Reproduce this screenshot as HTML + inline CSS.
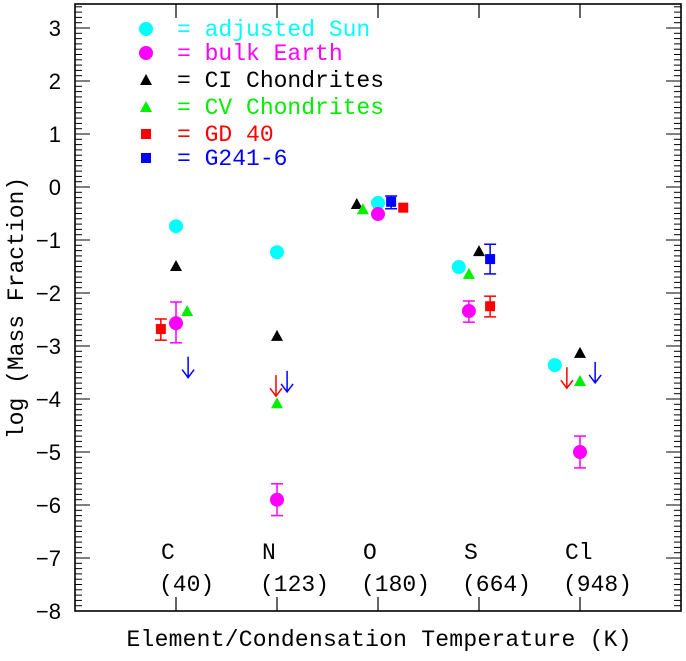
<!DOCTYPE html>
<html><head><meta charset="utf-8"><style>body{margin:0;background:#fff}svg text{font-family:"Liberation Mono",monospace}</style></head>
<body>
<svg id="c" width="686" height="656" xmlns="http://www.w3.org/2000/svg"></svg>
<script>
const categories=["C","N","O","S","Cl"];
const temps=["(40)","(123)","(180)","(664)","(948)"];
const yTicks=[3,2,1,0,-1,-2,-3,-4,-5,-6,-7,-8];
const sunX=[1,2,3,3.8,4.75], sunY=[-0.74,-1.23,-0.30,-1.51,-3.36];
const earthX=[1,2,3,3.9,5], earthY=[-2.57,-5.9,-0.51,-2.34,-5.0], earthLo=[-2.94,-6.2,-0.51,-2.55,-5.3], earthHi=[-2.17,-5.6,-0.51,-2.15,-4.7];
const ciX=[1,2,2.79,4,5], ciY=[-1.49,-2.81,-0.32,-1.21,-3.13];
const cvX=[1.11,2,2.85,3.9,5], cvY=[-2.34,-4.08,-0.42,-1.64,-3.66];
const gdX=[0.85,3.25,4.11], gdY=[-2.68,-0.39,-2.25], gdLo=[-2.89,-0.39,-2.45], gdHi=[-2.49,-0.39,-2.06];
const gdLimX=[1.99,4.87], gdLimY=[-3.55,-3.40];
const gX=[3.13,4.11], gY=[-0.28,-1.36], gLo=[-0.41,-1.64], gHi=[-0.17,-1.08];
const gLimX=[1.12,2.1,5.15], gLimY=[-3.2,-3.47,-3.30];
const L=75,R=681,T=4,B=611;
const xs=v=>L+v*(R-L)/6, ys=v=>187-v*53;
const svg=document.getElementById('c');
function el(t,a,p){const e=document.createElementNS('http://www.w3.org/2000/svg',t);for(const k in a)e.setAttribute(k,a[k]);(p||svg).appendChild(e);return e;}
const frame=el('rect',{x:L,y:T,width:R-L,height:B-T,fill:'none',stroke:'#000','stroke-width':1.6});


for(let i=-80;i<=34;i++){const v=i/10,y=ys(v),maj=i%10===0,len=maj?15:7;
 el('line',{x1:L,x2:L+len,y1:y,y2:y,stroke:'#000','stroke-width':1});
 el('line',{x1:R,x2:R-len,y1:y,y2:y,stroke:'#000','stroke-width':1});}
yTicks.forEach(v=>{const t=el('text',{x:61,y:ys(v)+8,'text-anchor':'end','font-size':22,style:'font-family:"Liberation Sans",sans-serif'});t.textContent=(v<0?'\u2212':'')+Math.abs(v);
 
 });
categories.forEach((c,i)=>{const x=xs(i+1);
 el('line',{x1:x,x2:x,y1:B,y2:B-14,stroke:'#000','stroke-width':1.2});
 el('line',{x1:x,x2:x,y1:T,y2:T+14,stroke:'#000','stroke-width':1.2});
 const a=el('text',{x:x-15,y:559,'font-size':23});a.textContent=c;
 
 
 const b=el('text',{x:x-17,y:591,'font-size':23});b.textContent=temps[i];
 
 });
const xt=el('text',{x:379,y:646,'text-anchor':'middle','font-size':23,textLength:505});xt.textContent='Element/Condensation Temperature (K)';


const yt=el('text',{x:0,y:0,'text-anchor':'middle','font-size':23,transform:'translate(23,308) rotate(-90)'});yt.textContent='log (Mass Fraction)';


function err(x,lo,hi,col){const X=xs(x);el('line',{x1:X,x2:X,y1:ys(lo),y2:ys(hi),stroke:col,'stroke-width':1.5});
 [lo,hi].forEach(v=>el('line',{x1:X-6,x2:X+6,y1:ys(v),y2:ys(v),stroke:col,'stroke-width':1.5}));}
function circle(x,y,col,name){const c=el('circle',{cx:xs(x),cy:ys(y),r:7,fill:col});}
function tri(x,y,col,name){const X=xs(x),Y=ys(y);const p=el('polygon',{points:`${X-6},${Y+5} ${X+6},${Y+5} ${X},${Y-6}`,fill:col});}
function sq(x,y,col,name){const p=el('rect',{x:xs(x)-5,y:ys(y)-5,width:10,height:10,fill:col});}
function arrow(x,y,col,name){const X=xs(x),Y=ys(y);const g=el('path',{d:`M${X},${Y}V${Y+21}M${X-6},${Y+13}L${X},${Y+21}L${X+6},${Y+13}`,stroke:col,fill:'none','stroke-width':1.5});}
sunX.forEach((x,i)=>circle(x,sunY[i],'#00ffff','sun-point'));
earthX.forEach((x,i)=>{if(earthLo[i]!==earthHi[i])err(x,earthLo[i],earthHi[i],'#ff00ff');circle(x,earthY[i],'#ff00ff','earth-point');});
ciX.forEach((x,i)=>tri(x,ciY[i],'#000','ci-point'));
cvX.forEach((x,i)=>tri(x,cvY[i],'#00ee00','cv-point'));
gdX.forEach((x,i)=>{if(gdLo[i]!==gdHi[i])err(x,gdLo[i],gdHi[i],'#ff0000');sq(x,gdY[i],'#ff0000','gd40-point');});
gdLimX.forEach((x,i)=>arrow(x,gdLimY[i],'#ff0000','gd40-upper-limit'));
gX.forEach((x,i)=>{err(x,gLo[i],gHi[i],'#0000ff');sq(x,gY[i],'#0000ff','g241-point');});
gLimX.forEach((x,i)=>arrow(x,gLimY[i],'#0000ff','g241-upper-limit'));
const leg=[['c','#00ffff','= adjusted Sun'],['c','#ff00ff','= bulk Earth'],['t','#000','= CI Chondrites'],['t','#00ee00','= CV Chondrites'],['s','#ff0000','= GD 40'],['s','#0000ff','= G241-6']];
const legY=[29,53,80,107,134,158];
leg.forEach((l,i)=>{const y=legY[i],x=146;
 if(l[0]==='c')el('circle',{cx:x,cy:y,r:7,fill:l[1]});
 else if(l[0]==='t')el('polygon',{points:`${x-6},${y+5} ${x+6},${y+5} ${x},${y-6}`,fill:l[1]});
 else el('rect',{x:x-5,y:y-5,width:10,height:10,fill:l[1]});
 const t=el('text',{x:177,y:y+7,'font-size':23,fill:l[1]});t.textContent=l[2];
 
 });
</script>
</body></html>
